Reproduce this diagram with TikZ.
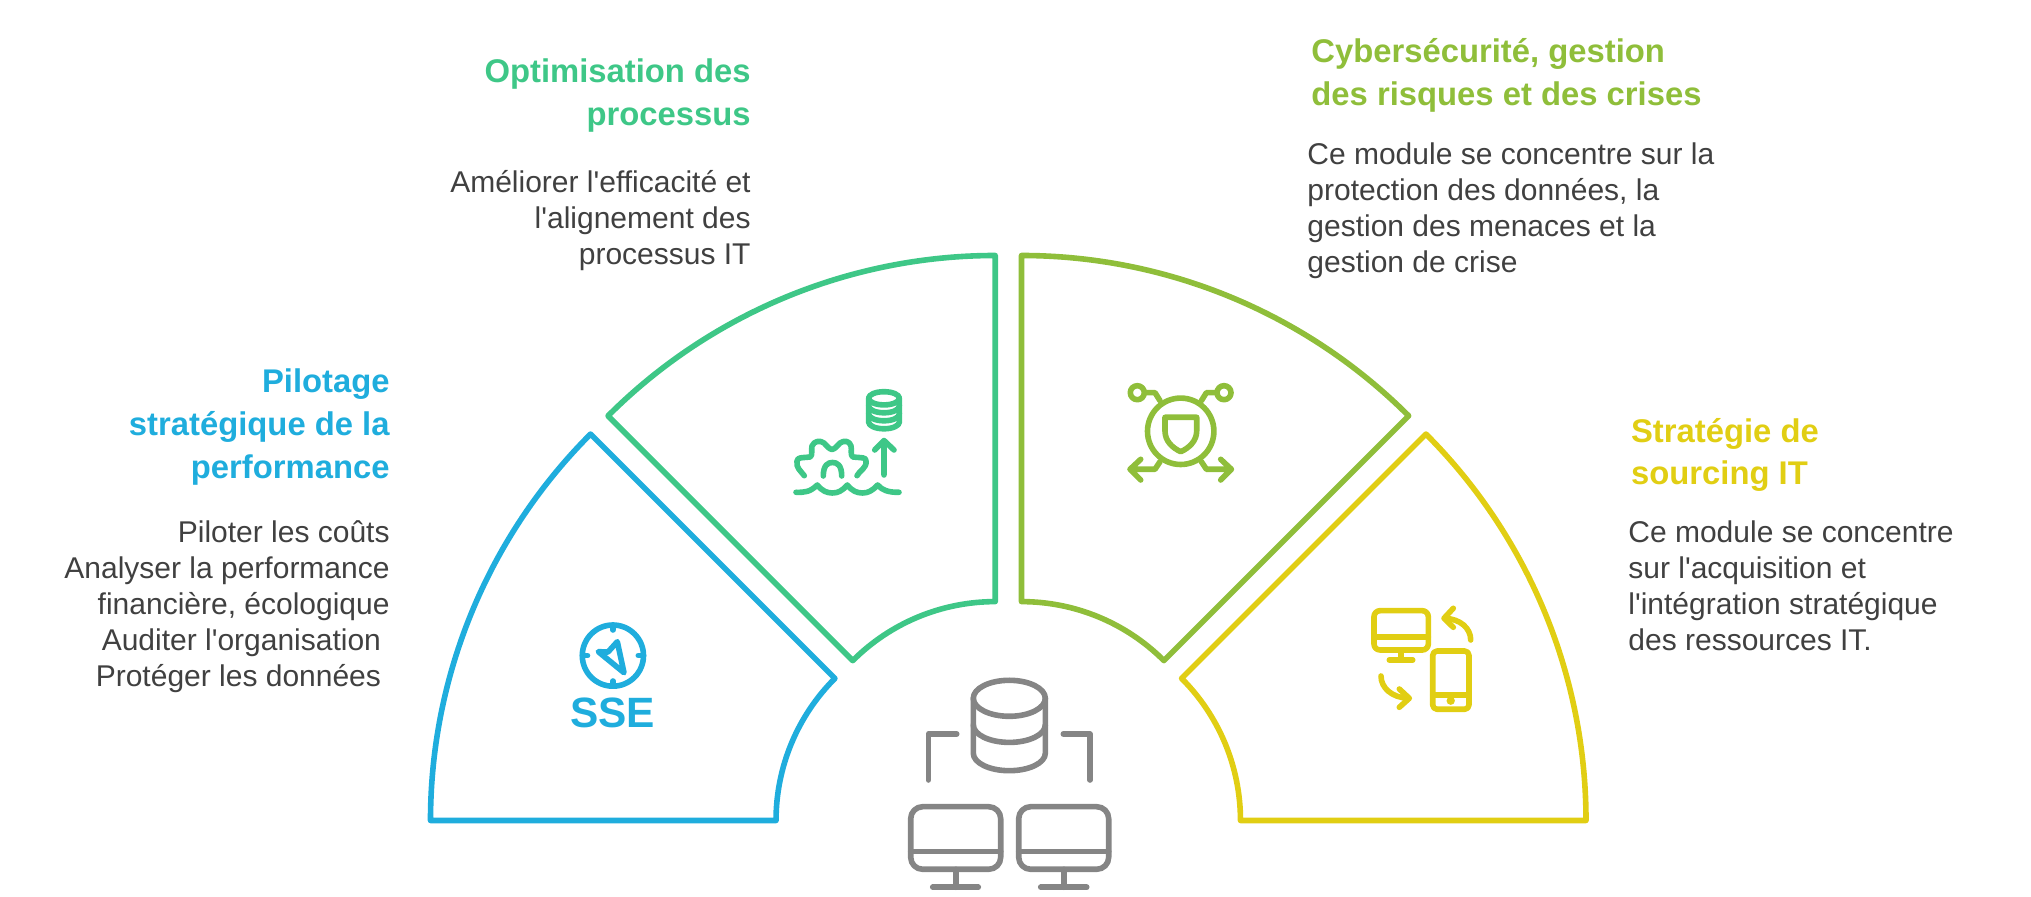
\documentclass[tikz,border=0pt]{standalone}
\usepackage{fontspec}
\setmainfont{Liberation Sans}
\definecolor{cblue}{HTML}{1FADDD}
\definecolor{cgreen}{HTML}{3EC787}
\definecolor{colive}{HTML}{8FBE3A}
\definecolor{cyellow}{HTML}{E1CE13}
\definecolor{cgray}{HTML}{858585}
\definecolor{ctext}{HTML}{404040}
\newcommand{\ap}{\textquotesingle}
\newcommand{\ttop}{\rule{0pt}{14pt}}
\newcommand{\btop}{\rule{0pt}{12pt}}
\tikzset{
  sector/.style={line width=2.8pt,line join=round},
  ico/.style={line width=2.8pt,line cap=round,line join=round},
  ttl/.style={font=\fontsize{16.4}{21.3}\selectfont\bfseries,inner sep=0pt},
  body/.style={font=\fontsize{15}{18.05}\selectfont,text=ctext,inner sep=0pt},
}
\begin{document}
\begin{tikzpicture}[x=0.5pt,y=-0.5pt]
\useasboundingbox (0,0) rectangle (2031,897);
% sectors
\draw[sector,cblue] (430.5,820.5) arc[start angle=180,end angle=135,radius=273.25pt] -- (834.9,678.4) arc[start angle=135,end angle=180,radius=100.5pt] -- cycle;
\draw[sector,cgreen] (995.2,255.5) arc[start angle=90,end angle=135,radius=273.75pt] -- (852.8,660.6) arc[start angle=135,end angle=90,radius=100.7pt] -- cycle;
\draw[sector,colive] (1021.5,255.5) arc[start angle=90,end angle=45,radius=273.75pt] -- (1163.9,660.6) arc[start angle=45,end angle=90,radius=100.7pt] -- cycle;
\draw[sector,cyellow] (1586,820.5) arc[start angle=0,end angle=45,radius=273.25pt] -- (1181.6,678.4) arc[start angle=45,end angle=0,radius=100.5pt] -- cycle;
% compass
\begin{scope}[ico,cblue]
\draw (612.9,655.6) circle[radius=15.3pt];
\draw (612.9,625) -- (612.9,630) (612.9,681) -- (612.9,686) (582.3,655.6) -- (587.5,655.6) (638.3,655.6) -- (643.5,655.6);
\draw (617.3,641.7) -- (624,672.7) -- (598.3,651.7) -- (608,652) -- cycle;
\end{scope}
\node[cblue,inner sep=0pt,font=\fontsize{21.2}{24}\selectfont\bfseries] (sse) at (612.5,713) {SSE};
% process icon
\begin{scope}[ico,cgreen]
\draw (884,398.3) ellipse[x radius=7.7pt,y radius=3.3pt];
\draw (868.6,398.3) -- (868.6,422) arc[start angle=180,end angle=360,x radius=7.7pt,y radius=3.4pt] -- (899.4,398.3);
\draw (868.6,406) arc[start angle=180,end angle=360,x radius=7.7pt,y radius=3.4pt];
\draw (868.6,414) arc[start angle=180,end angle=360,x radius=7.7pt,y radius=3.4pt];
\draw (884,475) -- (884,441) (874.7,450) -- (884,440.5) -- (894,450);
\draw (804.3,475.7) .. controls (800,470) and (796,468) .. (797,461) .. controls (798,457) and (801,458) .. (810,457) .. controls (813,456) and (811,449) .. (812,446) .. controls (814,441) and (820,440) .. (824,443) .. controls (827,446) and (829,449) .. (832,449.5) .. controls (835,449) and (837,446) .. (840,443) .. controls (844,440) and (850,441) .. (851,446) .. controls (852,449) and (850,456) .. (853,457) .. controls (862,458) and (866,457) .. (866,461) .. controls (867,468) and (860,470) .. (857,475.7);
\draw (823.3,476) .. controls (823.3,465) and (828,462.5) .. (832.5,462.5) .. controls (837,462.5) and (841.7,465) .. (841.7,476);
\draw (796,492.3) .. controls (805,492.5) and (810,492) .. (817.3,485) .. controls (822,491) and (827,493) .. (832.3,493) .. controls (838,493) and (842,491) .. (847.3,485) .. controls (852,491) and (857,493) .. (862.5,493) .. controls (868,493) and (872,491) .. (877.7,485) .. controls (882,490) and (888,492.5) .. (899,492.3);
\end{scope}
% shield icon
\begin{scope}[ico,colive]
\draw (1180.7,431.3) circle[radius=16.6pt];
\draw (1137.3,392.7) circle[radius=3.5pt] (1224,392.7) circle[radius=3.5pt];
\draw (1160,400.7) -- (1155,392.7) -- (1146,392.7);
\draw (1201.4,400.7) -- (1206.4,392.7) -- (1215.4,392.7);
\draw (1160,461.7) -- (1155,469.3) -- (1130,469.3) (1140.7,459.3) -- (1130,469.3) -- (1140.7,480);
\draw (1201.4,461.7) -- (1206.4,469.3) -- (1231.4,469.3) (1220.7,459.3) -- (1231.4,469.3) -- (1220.7,480);
\draw (1165,417.3) -- (1196.7,417.3) -- (1196.7,431) .. controls (1196.7,441) and (1189,448) .. (1180.8,451.7) .. controls (1172.5,448) and (1165,441) .. (1165,431) -- cycle;
\end{scope}
% devices icon
\begin{scope}[ico,cyellow]
\draw[rounded corners=3pt] (1374,610.7) rectangle (1428.3,650);
\draw (1374,637.3) -- (1428.3,637.3);
\draw (1401,650) -- (1401,660) (1389.3,660) -- (1412.7,660);
\draw[rounded corners=2.2pt] (1432.7,651) rectangle (1469,709.3);
\draw (1432.7,695) -- (1469,695);
\fill (1450.7,700.7) circle[radius=2.1pt];
\draw (1470.7,640) .. controls (1470.7,628) and (1460,619) .. (1445,618.3);
\draw (1453.3,608.3) -- (1444,618.3) -- (1453.3,627.3);
\draw (1381,676) .. controls (1381,688) and (1392,697.5) .. (1408,698.3);
\draw (1399.3,689) -- (1409.3,698.3) -- (1399.3,707.3);
\end{scope}
% central icon
\begin{scope}[ico,cgray]
\draw (1009.3,698.3) ellipse[x radius=18pt,y radius=9pt];
\draw (973.3,698.3) -- (973.3,753.3) arc[start angle=180,end angle=360,x radius=18pt,y radius=8.7pt] -- (1045.3,698.3);
\draw (973.3,725) arc[start angle=180,end angle=360,x radius=18pt,y radius=8.7pt];
\draw (928.3,780) -- (928.3,734) -- (956.7,734);
\draw (1090,780) -- (1090,734) -- (1063.3,734);
\draw[rounded corners=6pt] (910.7,806.7) rectangle (1000.7,869.3);
\draw (910.7,851.7) -- (1000.7,851.7);
\draw (955.7,869.3) -- (955.7,887.3) (932.7,887.3) -- (978.3,887.3);
\draw[rounded corners=6pt] (1018.7,806.7) rectangle (1108.7,869.3);
\draw (1018.7,851.7) -- (1108.7,851.7);
\draw (1063.7,869.3) -- (1063.7,887.3) (1040.7,887.3) -- (1086.7,887.3);
\end{scope}
% texts
\node[ttl,cgreen,align=right,anchor=north east] (t2) at (751,54.5) {\ttop Optimisation des\\processus};
\node[body,align=right,anchor=north east] (b2) at (751,167.7) {\btop Améliorer l\ap efficacité et\\l\ap alignement des\\processus IT};
\node[ttl,colive,align=left,anchor=north west] (t3) at (1311,34.5) {\ttop Cybersécurité, gestion\\des risques et des crises};
\node[body,align=left,anchor=north west] (b3) at (1307,140.3) {\btop Ce module se concentre sur la\\protection des données, la\\gestion des menaces et la\\gestion de crise};
\node[ttl,cblue,align=right,anchor=north east] (t1) at (390,364.5) {\ttop Pilotage\\stratégique de la\\performance};
\node[body,align=right,anchor=north east] (b1) at (390,517.7) {\btop Piloter les coûts\\Analyser la performance\\financière, écologique\\Auditer l\ap organisation\hspace{4.3pt}\mbox{}\\Protéger les données\hspace{4.3pt}\mbox{}};
\node[ttl,cyellow,align=left,anchor=north west] (t4) at (1630.7,413.8) {\ttop Stratégie de\\sourcing IT};
\node[body,align=left,anchor=north west] (b4) at (1628,517.7) {\btop Ce module se concentre\\sur l\ap acquisition et\\l\ap intégration stratégique\\des ressources IT.};
\end{tikzpicture}
\end{document}
